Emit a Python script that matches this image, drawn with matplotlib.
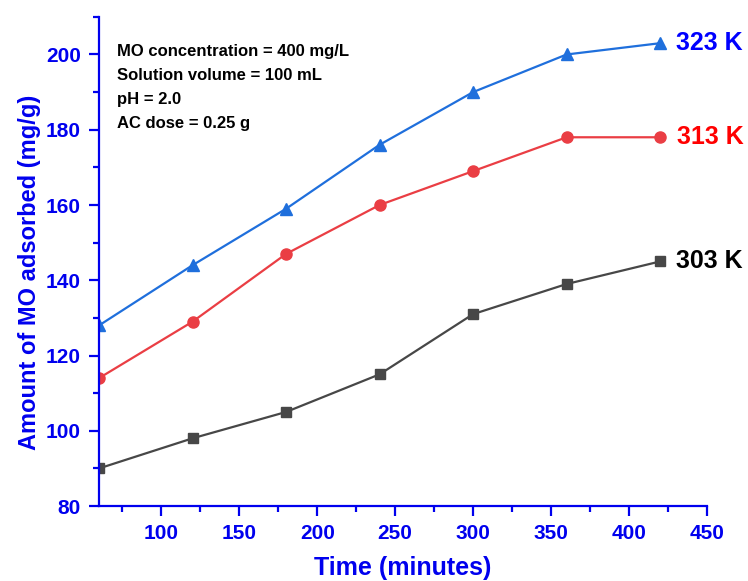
import matplotlib
matplotlib.use('Agg')
import matplotlib.pyplot as plt
from matplotlib.ticker import MultipleLocator

plt.rcParams['font.family'] = 'Liberation Sans'
plt.rcParams['font.weight'] = 'bold'

# contact time (minutes) and amount adsorbed (mg/g)
time_min = [60, 120, 180, 240, 300, 360, 420]
q_303 = [90, 98, 105, 115, 131, 139, 145]
q_313 = [114, 129, 147, 160, 169, 178, 178]
q_323 = [128, 144, 159, 176, 190, 200, 203]

conditions = ['MO concentration = 400 mg/L',
              'Solution volume = 100 mL',
              'pH = 2.0',
              'AC dose = 0.25 g']

axis_blue = '#0000EE'

fig = plt.figure(figsize=(7.48, 5.81), dpi=100)
ax = fig.add_axes([0.1324, 0.129, 0.8126, 0.842])

ax.plot(time_min, q_323, color='#1f6fdc', marker='^', ms=9, lw=1.6)
ax.plot(time_min, q_313, color='#ea3e44', marker='o', ms=8, lw=1.6)
ax.plot(time_min, q_303, color='#474747', marker='s', ms=7, lw=1.6)

ax.set_xlim(60, 450)
ax.set_ylim(80, 210)
ax.xaxis.set_minor_locator(MultipleLocator(25))
ax.yaxis.set_major_locator(MultipleLocator(20))
ax.yaxis.set_minor_locator(MultipleLocator(10))
ax.set_xticks([100, 150, 200, 250, 300, 350, 400, 450])

for side in ['top', 'right']:
    ax.spines[side].set_visible(False)
for side in ['left', 'bottom']:
    ax.spines[side].set_color(axis_blue)
    ax.spines[side].set_linewidth(1.6)

ax.tick_params(which='both', direction='out', colors=axis_blue, width=1.6)
ax.tick_params(which='major', length=7, labelsize=15, pad=6)
ax.tick_params(which='minor', length=4)
for lbl in ax.get_xticklabels() + ax.get_yticklabels():
    lbl.set_fontweight('bold')

ax.set_xlabel('Time (minutes)', fontsize=18, fontweight='bold', color=axis_blue, labelpad=9)
ax.set_ylabel('Amount of MO adsorbed (mg/g)', fontsize=17, fontweight='bold', color=axis_blue)
ax.yaxis.set_label_coords(-0.095, 0.478)

ax.text(0.03, 0.945, '\n'.join(conditions), transform=ax.transAxes, fontsize=12,
        fontweight='bold', va='top', ha='left', linespacing=1.75)

ax.text(430, q_323[-1], '323 K', color='#0000FF', fontsize=18, fontweight='bold', va='center', clip_on=False)
ax.text(431, q_313[-1], '313 K', color='#FF0000', fontsize=18, fontweight='bold', va='center', clip_on=False)
ax.text(430, q_303[-1], '303 K', color='black', fontsize=18, fontweight='bold', va='center', clip_on=False)

fig.savefig('out.png', dpi=100)
